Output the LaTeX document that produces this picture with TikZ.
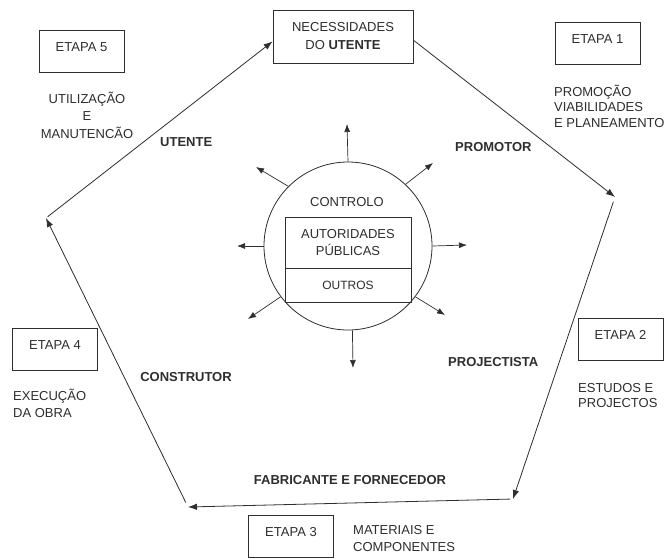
\documentclass[tikz,border=0pt]{standalone}
\usepackage{fontspec}
\setmainfont{Liberation Sans}
\usetikzlibrary{arrows.meta}
\definecolor{ink}{HTML}{2E2E2E}
\begin{document}
\begin{tikzpicture}[x=1pt,y=-1pt,
  font=\fontsize{13}{16}\selectfont, text=ink,
  every node/.style={inner sep=0pt},
  flow/.style={draw=ink, line width=0.8pt, -{Latex[length=9pt,width=6.5pt]}},
  ray/.style={draw=ink, line width=0.7pt, -{Latex[length=8pt,width=6pt]}},
  stagebox/.style={draw=ink, line width=0.7pt, minimum width=85pt, minimum height=42pt,
                   text height=10pt, text depth=8.7pt},
  actor/.style={font=\fontsize{13}{16}\selectfont\bfseries},
  note/.style={align=left, anchor=west},
]
\useasboundingbox[fill=white] (0,0) rectangle (670,558);

% central need of the user
\node[draw=ink, line width=0.8pt, minimum width=140pt, minimum height=53pt,
      align=center, font=\fontsize{13}{18}\selectfont] (need) at (343,36.5)
  {NECESSIDADES\\DO \textbf{UTENTE}};

% pentagon corners
\coordinate (R)  at (615,197);
\coordinate (BR) at (513,499);
\coordinate (BL) at (188,507);
\coordinate (L)  at (46,218);

% cycle of the stages
\draw[flow] (need.357) -- (R);
\draw[flow, shorten <=5pt] (R) -- (BR);
\draw[flow, shorten <=3pt] (BR) -- (BL);
\draw[flow, shorten <=5pt] (BL) -- (L);
\draw[flow, shorten <=2pt] (L) -- (need.184);

% control circle in the middle
\node[circle, draw=ink, line width=0.8pt, minimum size=168pt] (ctrl) at (348,246) {};
\node (ctrltxt) at (347,202) {CONTROLO};
\node[draw=ink, line width=0.7pt, minimum width=126pt, minimum height=51pt,
      align=center, font=\fontsize{13}{17}\selectfont] (auth) at (348,242.5)
  {AUTORIDADES\\PÚBLICAS};
\node[draw=ink, line width=0.7pt, minimum width=126pt, minimum height=34pt,
      font=\fontsize{12}{15}\selectfont] (others) at (348,285) {OUTROS};

% radiating arrows
\coordinate (t90)  at (347,124);
\coordinate (t47)  at (433,163);
\coordinate (t0)   at (467,245);
\coordinate (t323) at (445,315);
\coordinate (t273) at (353,368);
\coordinate (t217) at (248,319);
\coordinate (t180) at (237,246);
\coordinate (t135) at (256,167);
\draw[ray] (ctrl.90)  -- (t90);
\draw[ray] (ctrl.47)  -- (t47);
\draw[ray] (ctrl.0)   -- (t0);
\draw[ray] (ctrl.323) -- (t323);
\draw[ray] (ctrl.273) -- (t273);
\draw[ray] (ctrl.217) -- (t217);
\draw[ray] (ctrl.180) -- (t180);
\draw[ray] (ctrl.135) -- (t135);

% actors along the cycle
\node[actor, anchor=west] (utente)   at (160,142) {UTENTE};
\node[actor, anchor=west] (promotor) at (455,147) {PROMOTOR};
\node[actor, anchor=west] (projec)   at (448,362) {PROJECTISTA};
\node[actor] (constr) at (186,377) {CONSTRUTOR};
\node[actor] (fabric) at (350,480) {FABRICANTE E FORNECEDOR};

% stages
\node[stagebox] (e1) at (597.5,43) {ETAPA 1};
\node[note, font=\fontsize{13}{15.5}\selectfont] (e1t) at (554,106)
  {PROMOÇÃO\\VIABILIDADES\\E PLANEAMENTO};

\node[stagebox] (e2) at (620.5,339) {ETAPA 2};
\node[note, font=\fontsize{13}{15.5}\selectfont] (e2t) at (578,395.5)
  {ESTUDOS E\\PROJECTOS};

\node[stagebox] (e3) at (291,536) {ETAPA 3};
\node[note, font=\fontsize{13}{17}\selectfont] (e3t) at (353,538.5)
  {MATERIAIS E\\COMPONENTES};

\node[stagebox] (e4) at (55,349) {ETAPA 4};
\node[note, font=\fontsize{13}{17}\selectfont] (e4t) at (13,403.5)
  {EXECUÇÃO\\DA OBRA};

\node[stagebox] (e5) at (81.5,51) {ETAPA 5};
\node[align=center, font=\fontsize{13}{17.5}\selectfont] (e5t) at (87,115)
  {UTILIZAÇÃO\\E\\MANUTENCÃO};
\end{tikzpicture}
\end{document}
